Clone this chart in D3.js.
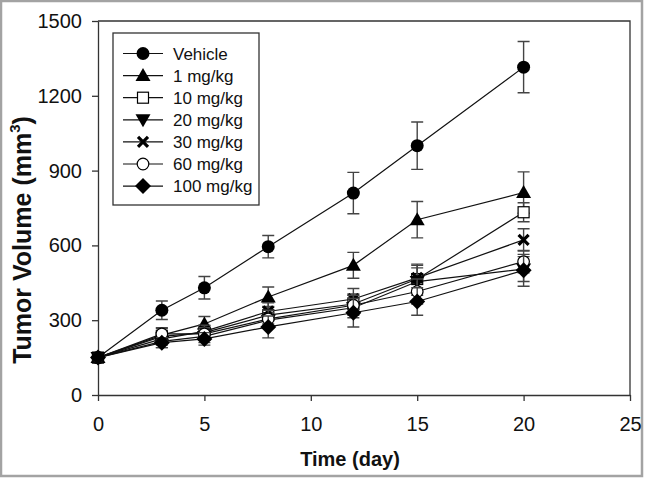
<!DOCTYPE html>
<html>
<head>
<meta charset="utf-8">
<script src="https://cdn.jsdelivr.net/npm/d3@7"></script>
<style>
  html, body { margin: 0; padding: 0; background: #fff; }
  svg { display: block; font-family: "Liberation Sans", Arial, sans-serif; }
</style>
</head>
<body>
<svg id="chart" width="649" height="478"></svg>
<script>
// ---- data ----
const days = [0, 3, 5, 8, 12, 15, 20];
const seriesNames = ["Vehicle", "1 mg/kg", "10 mg/kg", "20 mg/kg", "30 mg/kg", "60 mg/kg", "100 mg/kg"];
const vehicle    = [150, 340, 430, 595, 810, 1000, 1315];
const vehicleErr = [8, 37, 45, 45, 83, 95, 103];
const mg1        = [150, 240, 285, 393, 520, 703, 812];
const mg1Err     = [8, 28, 30, 40, 52, 73, 83];
const mg10       = [150, 235, 250, 320, 365, 465, 733];
const mg10Err    = [8, 25, 28, 35, 40, 55, 38];
const mg20       = [150, 215, 235, 300, 350, 455, 505];
const mg20Err    = [8, 25, 25, 30, 40, 55, 50];
const mg30       = [150, 225, 255, 335, 385, 470, 622];
const mg30Err    = [8, 25, 25, 35, 42, 55, 45];
const mg60       = [150, 245, 245, 305, 360, 415, 535];
const mg60Err    = [8, 25, 25, 35, 40, 50, 45];
const mg100      = [150, 210, 225, 273, 330, 375, 500];
const mg100Err   = [8, 20, 25, 44, 57, 55, 64];
const xTicks = [0, 5, 10, 15, 20, 25];
const yTicks = [0, 300, 600, 900, 1200, 1500];
const markers = ["dot", "triUp", "square", "triDown", "cross", "circle", "diamond"];

const values = [vehicle, mg1, mg10, mg20, mg30, mg60, mg100];
const errors = [vehicleErr, mg1Err, mg10Err, mg20Err, mg30Err, mg60Err, mg100Err];
const series = seriesNames.map((name, i) => ({
  name, marker: markers[i],
  points: days.map((d, j) => ({ x: d, y: values[i][j], e: errors[i][j] }))
}));

// ---- layout ----
const svg = d3.select("#chart");
const x = d3.scaleLinear().domain([0, 25]).range([98, 630]);
const y = d3.scaleLinear().domain([0, 1500]).range([395, 21]);

// outer border
svg.append("rect").attr("x", 1).attr("y", 1).attr("width", 641).attr("height", 475)
  .attr("fill", "#fff").attr("stroke", "#a3a3a3").attr("stroke-width", 2.5);

// plot frame (top and right)
svg.append("path")
  .attr("d", `M${x(0)},${y(1500)}H${x(25)}V${y(0)}`)
  .attr("fill", "none").attr("stroke", "#333").attr("stroke-width", 1.3);

// axes
const xAxis = svg.append("g").attr("transform", `translate(0,${y(0)})`)
  .call(d3.axisBottom(x).tickValues(xTicks).tickSize(6).tickPadding(16).tickSizeOuter(0)
    .tickFormat(d3.format("d")));
const yAxis = svg.append("g").attr("transform", `translate(${x(0)},0)`)
  .call(d3.axisLeft(y).tickValues(yTicks).tickSize(6).tickPadding(10).tickSizeOuter(0)
    .tickFormat(d3.format("d")));
[xAxis, yAxis].forEach(g => {
  g.select(".domain").attr("stroke", "#333").attr("stroke-width", 1.3);
  g.selectAll(".tick line").attr("stroke", "#333").attr("stroke-width", 1.3);
  g.selectAll(".tick text").attr("font-size", 20).attr("fill", "#111")
    .attr("font-family", "Liberation Sans, Arial, sans-serif");
});

// axis titles
svg.append("text").attr("x", (x(0) + x(25)) / 2 - 14).attr("y", 466)
  .attr("text-anchor", "middle").attr("font-weight", "bold").attr("font-size", 20)
  .attr("fill", "#111").text("Time (day)");
const yt = svg.append("text").attr("transform", `translate(31,${240}) rotate(-90)`)
  .attr("text-anchor", "middle").attr("font-weight", "bold").attr("font-size", 25)
  .attr("fill", "#111");
yt.append("tspan").text("Tumor Volume (mm");
yt.append("tspan").attr("font-size", 15).attr("dy", -11).text("3");
yt.append("tspan").attr("dy", 11).text(")");

// marker drawing
function drawMarker(g, type, cx, cy) {
  const k = "#000";
  switch (type) {
    case "dot":
      g.append("circle").attr("cx", cx).attr("cy", cy).attr("r", 6.5).attr("fill", k); break;
    case "circle":
      g.append("circle").attr("cx", cx).attr("cy", cy).attr("r", 5.8).attr("fill", "#fff")
        .attr("stroke", k).attr("stroke-width", 1.2); break;
    case "triUp":
      g.append("path").attr("d", `M${cx},${cy - 7.5}L${cx + 7.5},${cy + 5.5}L${cx - 7.5},${cy + 5.5}Z`).attr("fill", k); break;
    case "triDown":
      g.append("path").attr("d", `M${cx},${cy + 7.5}L${cx + 7.5},${cy - 5.5}L${cx - 7.5},${cy - 5.5}Z`).attr("fill", k); break;
    case "square":
      g.append("rect").attr("x", cx - 5.5).attr("y", cy - 5.5).attr("width", 11).attr("height", 11)
        .attr("fill", "#fff").attr("stroke", k).attr("stroke-width", 1.2); break;
    case "diamond":
      g.append("path").attr("d", `M${cx},${cy - 8}L${cx + 8},${cy}L${cx},${cy + 8}L${cx - 8},${cy}Z`).attr("fill", k); break;
    case "cross":
      g.append("path").attr("d", `M${cx - 5},${cy - 5}L${cx + 5},${cy + 5}M${cx - 5},${cy + 5}L${cx + 5},${cy - 5}`)
        .attr("stroke", k).attr("stroke-width", 3.2).attr("fill", "none"); break;
  }
}

const plot = svg.append("g");
const line = d3.line().x(d => x(d.x)).y(d => y(d.y));

series.forEach(s => {
  const g = plot.append("g");
  // error bars
  s.points.forEach(p => {
    if (p.x === 0) return;
    g.append("path")
      .attr("d", `M${x(p.x)},${y(p.y - p.e)}V${y(p.y + p.e)}M${x(p.x) - 6},${y(p.y + p.e)}h12M${x(p.x) - 6},${y(p.y - p.e)}h12`)
      .attr("stroke", "#444").attr("stroke-width", 1.4).attr("fill", "none");
  });
  g.append("path").datum(s.points).attr("d", line)
    .attr("fill", "none").attr("stroke", "#111").attr("stroke-width", 1.2);
  s.points.forEach(p => drawMarker(g, s.marker, x(p.x), y(p.y)));
});

// legend
const lg = svg.append("g");
lg.append("rect").attr("x", 113).attr("y", 33).attr("width", 146).attr("height", 172)
  .attr("fill", "#fff").attr("stroke", "#333").attr("stroke-width", 1.3);
series.forEach((s, i) => {
  const ly = 53.5 + i * 22.1;
  lg.append("line").attr("x1", 123).attr("x2", 163).attr("y1", ly).attr("y2", ly)
    .attr("stroke", "#111").attr("stroke-width", 1.2);
  drawMarker(lg, s.marker, 143, ly);
  lg.append("text").attr("x", 173).attr("y", ly + 6).attr("font-size", 17).attr("fill", "#111").text(s.name);
});
</script>
</body>
</html>
